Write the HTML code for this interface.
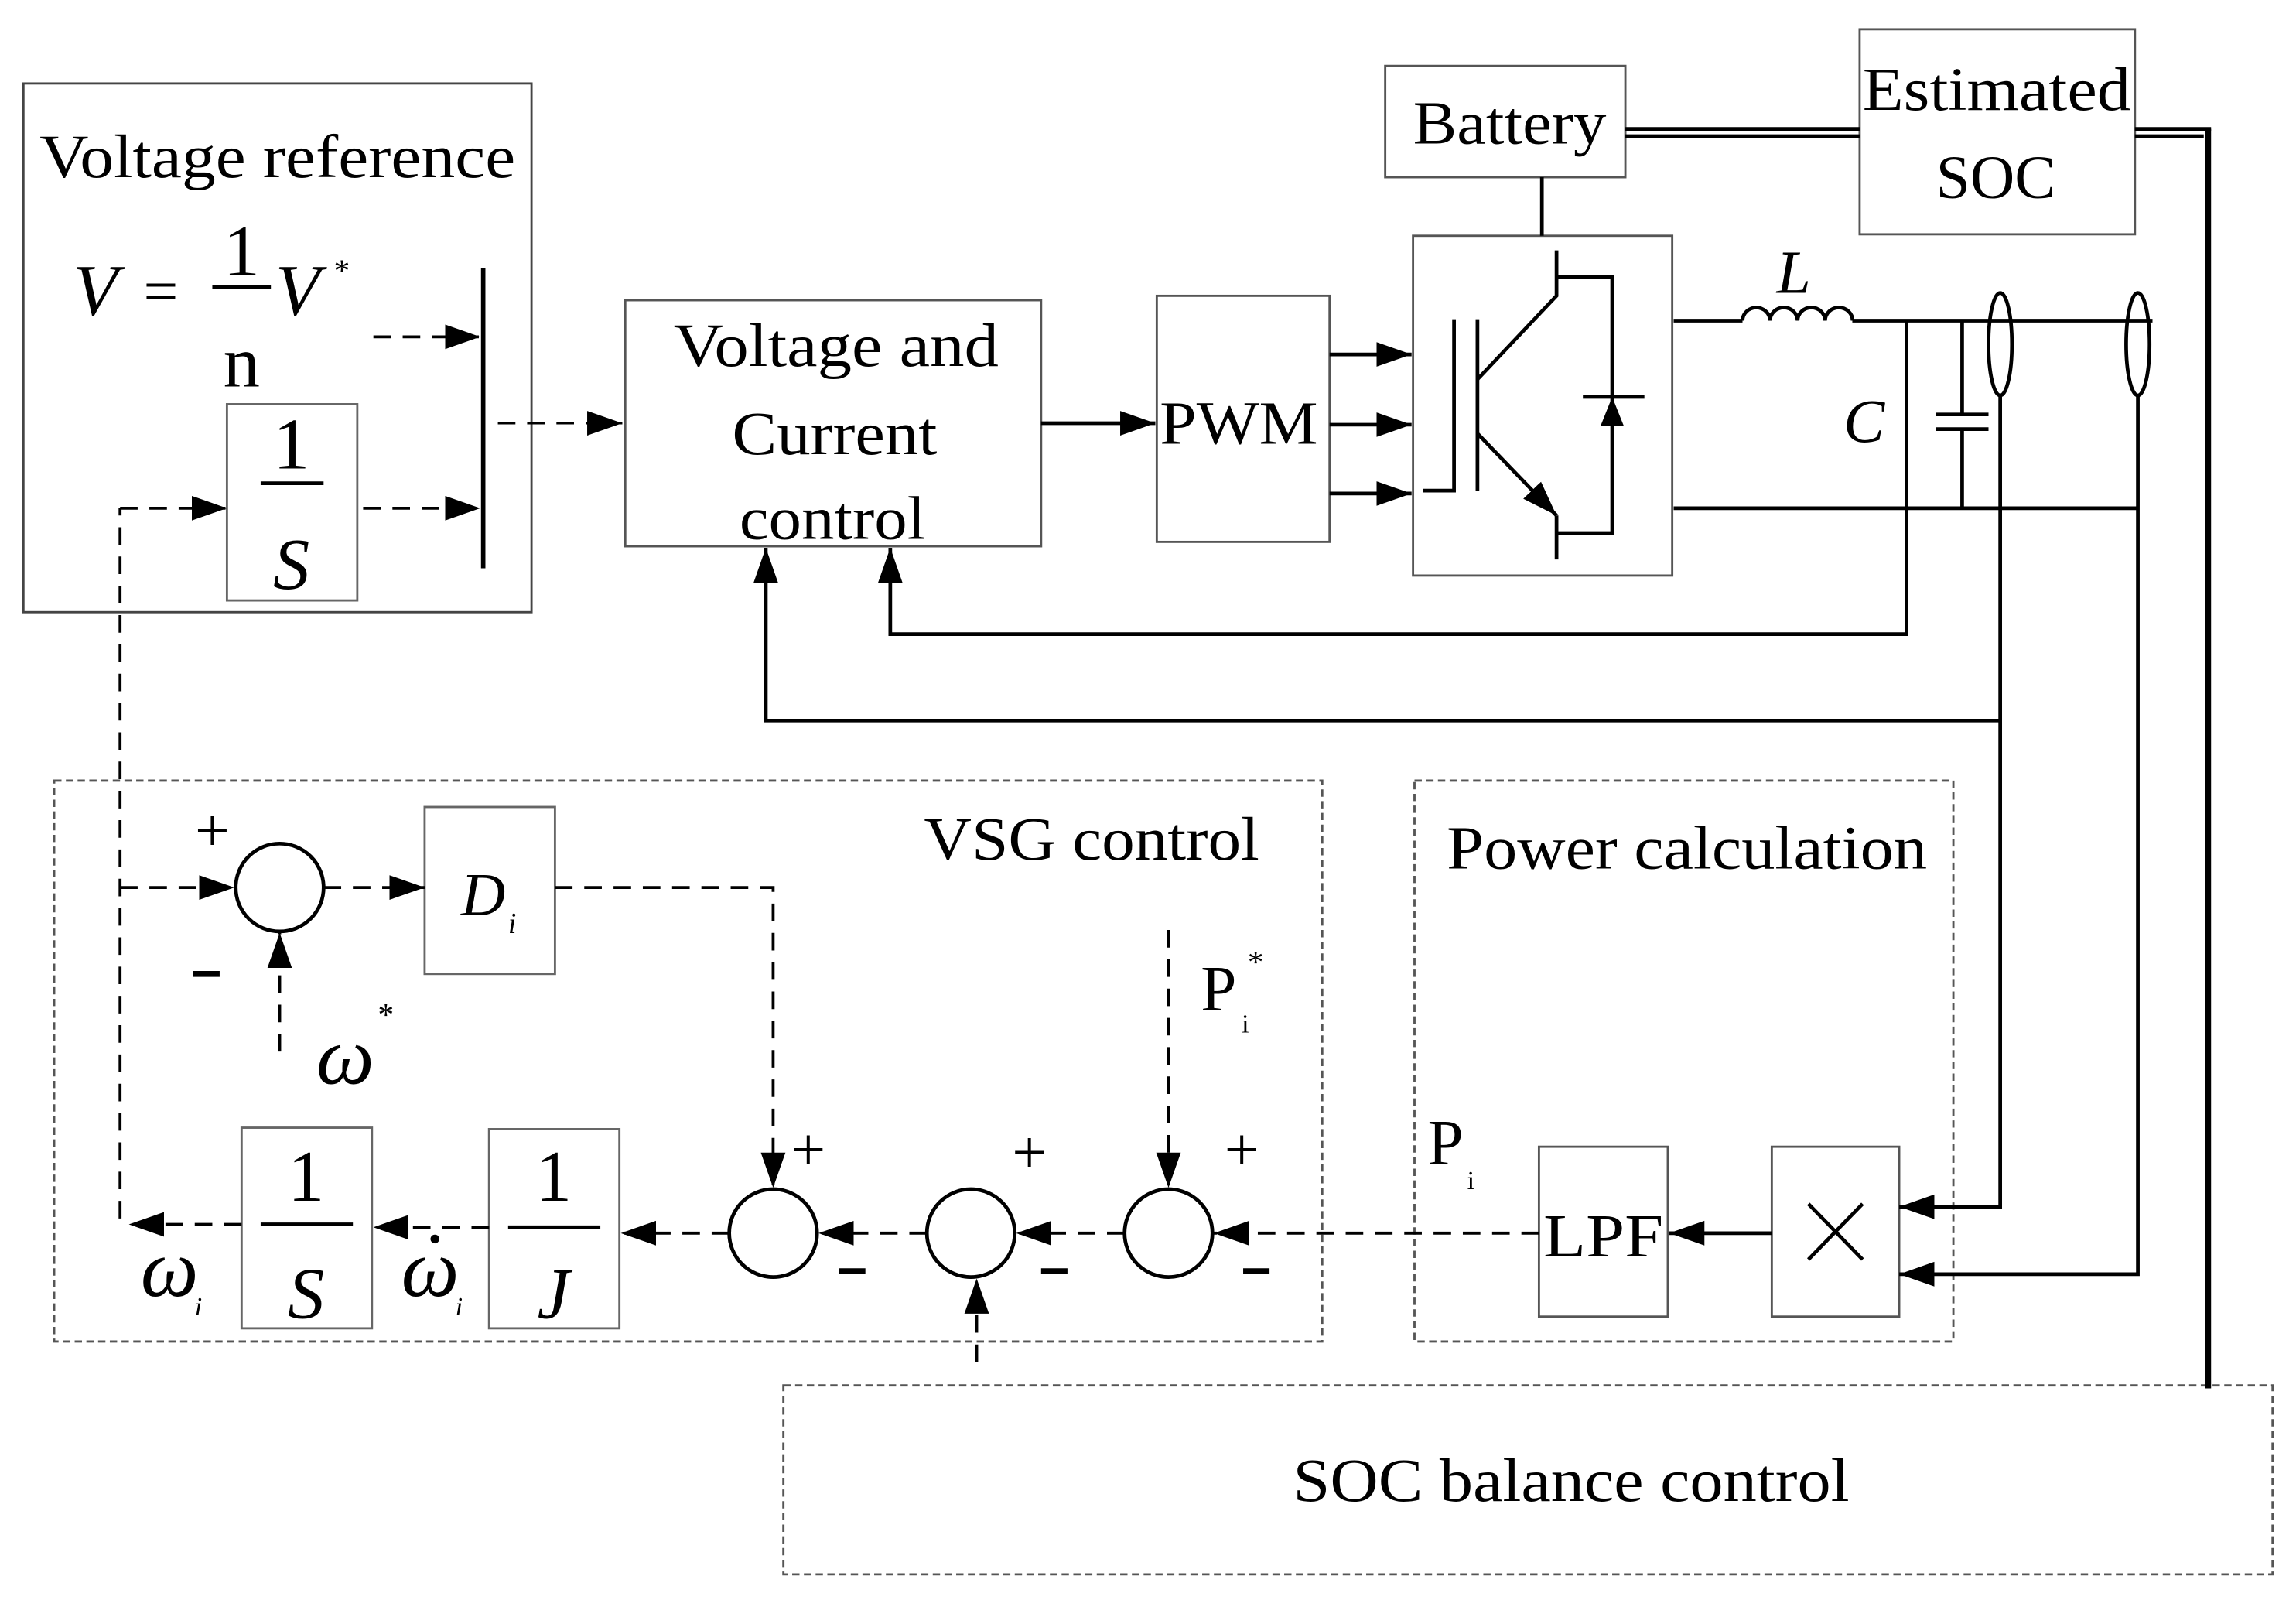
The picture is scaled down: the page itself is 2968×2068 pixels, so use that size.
<!DOCTYPE html>
<html><head><meta charset="utf-8"><style>html,body{margin:0;padding:0;background:#fff}svg{display:block}</style></head>
<body>
<svg width="2968" height="2068" viewBox="0 0 1568 1092.5" preserveAspectRatio="none" xmlns="http://www.w3.org/2000/svg" font-family="Liberation Serif, serif">
<defs>
<marker id="a" viewBox="0 0 10 10" refX="10" refY="5" markerWidth="24" markerHeight="24" markerUnits="userSpaceOnUse" orient="auto"><path d="M0,1.5 L10,5 L0,8.5z" fill="#000"/></marker>
</defs>
<g fill="none" stroke="#000">
<rect x="16" y="57" width="347" height="361" stroke="#444" stroke-width="1.5"/>
<rect x="155" y="276" width="89" height="134" stroke="#666" stroke-width="1.5"/>
<rect x="427" y="205" width="284" height="168" stroke="#555" stroke-width="1.5"/>
<rect x="790" y="202" width="118" height="168" stroke="#555" stroke-width="1.5"/>
<rect x="965" y="161" width="177" height="232" stroke="#555" stroke-width="1.5"/>
<rect x="946" y="45" width="164" height="76" stroke="#555" stroke-width="1.5"/>
<rect x="1270" y="20" width="188" height="140" stroke="#555" stroke-width="1.5"/>
<rect x="37" y="533" width="866" height="383" stroke="#555" stroke-width="1.5" stroke-dasharray="5,3"/>
<rect x="966" y="533" width="368" height="383" stroke="#555" stroke-width="1.5" stroke-dasharray="5,3"/>
<rect x="535" y="946" width="1017" height="129" stroke="#555" stroke-width="1.5" stroke-dasharray="5,3"/>
<rect x="290" y="551" width="89" height="114" stroke="#666" stroke-width="1.5"/>
<rect x="165" y="770" width="89" height="137" stroke="#666" stroke-width="1.5"/>
<rect x="334" y="771" width="89" height="136" stroke="#666" stroke-width="1.5"/>
<rect x="1051" y="783" width="88" height="116" stroke="#555" stroke-width="1.5"/>
<rect x="1210" y="783" width="87" height="116" stroke="#555" stroke-width="1.5"/>
<line x1="330" y1="183" x2="330" y2="388" stroke-width="3"/>
<line x1="145" y1="196" x2="185" y2="196" stroke-width="2.5"/>
<line x1="178" y1="330" x2="221" y2="330" stroke-width="2.5"/>
<g stroke-width="2" stroke-dasharray="12,8">
<line x1="255" y1="230" x2="328" y2="230" marker-end="url(#a)"/>
<line x1="82" y1="347" x2="155" y2="347" marker-end="url(#a)"/>
<line x1="248" y1="347" x2="328" y2="347" marker-end="url(#a)"/>
<line x1="340" y1="289" x2="425" y2="289" marker-end="url(#a)" stroke-width="1.5"/>
<polyline points="82,832 82,347"/>
<line x1="82" y1="606" x2="160" y2="606" marker-end="url(#a)"/>
<line x1="221" y1="606" x2="290" y2="606" marker-end="url(#a)"/>
<polyline points="379,606 528,606 528,811" marker-end="url(#a)"/>
<line x1="191" y1="718" x2="191" y2="637" marker-end="url(#a)"/>
<line x1="798" y1="635" x2="798" y2="811" marker-end="url(#a)"/>
<line x1="1051" y1="842" x2="829" y2="842" marker-end="url(#a)"/>
<line x1="768" y1="842" x2="694" y2="842" marker-end="url(#a)"/>
<line x1="633" y1="842" x2="559" y2="842" marker-end="url(#a)"/>
<line x1="498" y1="842" x2="424" y2="842" marker-end="url(#a)"/>
<line x1="334" y1="838" x2="255" y2="838" marker-end="url(#a)"/>
<line x1="165" y1="836" x2="88" y2="836" marker-end="url(#a)"/>
<line x1="667" y1="930" x2="667" y2="873" marker-end="url(#a)"/>
</g>
<circle cx="191" cy="606" r="30" stroke-width="2.5"/>
<circle cx="528" cy="842" r="30" stroke-width="2.5"/>
<circle cx="663" cy="842" r="30" stroke-width="2.5"/>
<circle cx="798" cy="842" r="30" stroke-width="2.5"/>
<line x1="178" y1="836" x2="241" y2="836" stroke-width="2.5"/>
<line x1="347" y1="838" x2="410" y2="838" stroke-width="2.5"/>
<g stroke-width="2.5">
<line x1="711" y1="289" x2="789" y2="289" marker-end="url(#a)"/>
<line x1="908" y1="242" x2="964" y2="242" marker-end="url(#a)"/>
<line x1="908" y1="290" x2="964" y2="290" marker-end="url(#a)"/>
<line x1="908" y1="337" x2="964" y2="337" marker-end="url(#a)"/>
<line x1="1053" y1="121" x2="1053" y2="161"/>
<line x1="1110" y1="88" x2="1270" y2="88"/><line x1="1110" y1="93" x2="1270" y2="93"/>
<polyline points="1458,88 1510,88"/><line x1="1458" y1="93" x2="1505" y2="93"/>
<line x1="1508" y1="88" x2="1508" y2="948" stroke-width="4"/>
<line x1="1143" y1="219" x2="1190" y2="219"/>
<path d="M1190,219 a9.4,9 0 0 1 18.8,0 a9.4,9 0 0 1 18.8,0 a9.4,9 0 0 1 18.8,0 a9.4,9 0 0 1 18.8,0"/>
<line x1="1265" y1="219" x2="1470" y2="219"/>
<line x1="1143" y1="347" x2="1460" y2="347"/>
<line x1="1340" y1="219" x2="1340" y2="283"/><line x1="1340" y1="293" x2="1340" y2="347"/>
<line x1="1322" y1="283" x2="1358" y2="283"/><line x1="1322" y1="293" x2="1358" y2="293"/>
<ellipse cx="1366" cy="235" rx="8" ry="35"/>
<ellipse cx="1460" cy="235" rx="8" ry="35"/>
<polyline points="1302,219 1302,433 608,433 608,374" marker-end="url(#a)"/>
<polyline points="1366,270 1366,824 1297,824" marker-end="url(#a)"/>
<polyline points="1366,492 523,492 523,374" marker-end="url(#a)"/>
<polyline points="1460,270 1460,870 1297,870" marker-end="url(#a)"/>
<line x1="1210" y1="842" x2="1140" y2="842" marker-end="url(#a)"/>
<line x1="1235" y1="822" x2="1272" y2="860"/><line x1="1272" y1="822" x2="1235" y2="860"/>
<polyline points="972,335 993,335 993,218"/>
<line x1="1009" y1="218" x2="1009" y2="335"/>
<polyline points="1009,259 1063,202 1063,171"/>
<polyline points="1063,189 1101,189 1101,364 1063,364"/>
<line x1="1009" y1="296" x2="1063" y2="352" marker-end="url(#a)"/>
<line x1="1063" y1="352" x2="1063" y2="382"/>
<line x1="1081" y1="271" x2="1123" y2="271"/>
</g>
<path d="M1101,271 L1093,291 L1109,291z" fill="#000" stroke="none"/>
<g stroke-width="4">
<line x1="132" y1="665" x2="150" y2="665"/>
<line x1="573" y1="868" x2="591" y2="868"/>
<line x1="711" y1="868" x2="729" y2="868"/>
<line x1="849" y1="868" x2="867" y2="868"/>
</g>
</g>
<g fill="#000" font-size="42">
<text x="27" y="121" textLength="325" lengthAdjust="spacingAndGlyphs">Voltage reference</text>
<text x="50" y="215" font-style="italic" font-size="50">V</text>
<text x="98" y="213" font-size="42">=</text>
<text x="165" y="188" text-anchor="middle" font-size="50">1</text>
<text x="165" y="264" text-anchor="middle" font-size="50">n</text>
<text x="188" y="215" font-style="italic" font-size="50">V</text>
<text x="228" y="192" font-size="22">*</text>
<text x="199" y="320" text-anchor="middle" font-size="50">1</text>
<text x="199" y="402" text-anchor="middle" font-size="50" font-style="italic">S</text>
<text x="460" y="250" textLength="222" lengthAdjust="spacingAndGlyphs">Voltage and</text>
<text x="500" y="310" textLength="140" lengthAdjust="spacingAndGlyphs">Current</text>
<text x="505" y="368" textLength="127" lengthAdjust="spacingAndGlyphs">control</text>
<text x="792" y="303" textLength="108" lengthAdjust="spacingAndGlyphs">PWM</text>
<text x="965" y="98" textLength="132" lengthAdjust="spacingAndGlyphs">Battery</text>
<text x="1272" y="75" textLength="183" lengthAdjust="spacingAndGlyphs">Estimated</text>
<text x="1363" y="135" text-anchor="middle">SOC</text>
<text x="1225" y="200" text-anchor="middle" font-style="italic">L</text>
<text x="1273" y="302" text-anchor="middle" font-style="italic">C</text>
<text x="631" y="587" textLength="229" lengthAdjust="spacingAndGlyphs">VSG control</text>
<text x="988" y="593" textLength="328" lengthAdjust="spacingAndGlyphs">Power calculation</text>
<text x="883" y="1025" textLength="380" lengthAdjust="spacingAndGlyphs">SOC balance control</text>
<text x="1054" y="858" textLength="82" lengthAdjust="spacingAndGlyphs">LPF</text>
<text x="330" y="625" text-anchor="middle" font-style="italic">D</text><text x="347" y="637" font-size="20" font-style="italic">i</text>
<text x="145" y="581" text-anchor="middle">+</text>
<text x="552" y="799" text-anchor="middle">+</text>
<text x="703" y="801" text-anchor="middle">+</text>
<text x="848" y="799" text-anchor="middle">+</text>
<text x="216" y="740" font-style="italic" font-size="56">ω</text><text x="258" y="700" font-size="22">*</text>
<text x="820" y="690" font-size="44">P</text><text x="852" y="664" font-size="22">*</text><text x="848" y="705" font-size="18">i</text>
<text x="975" y="795" font-size="44">P</text><text x="1002" y="812" font-size="18">i</text>
<text x="209" y="820" text-anchor="middle" font-size="50">1</text>
<text x="209" y="900" text-anchor="middle" font-size="50" font-style="italic">S</text>
<text x="378" y="820" text-anchor="middle" font-size="50">1</text>
<text x="378" y="900" text-anchor="middle" font-size="50" font-style="italic">J</text>
<text x="96" y="885" font-style="italic" font-size="56">ω</text><text x="133" y="898" font-size="18" font-style="italic">i</text>
<text x="274" y="885" font-style="italic" font-size="56">ω</text><text x="311" y="898" font-size="18" font-style="italic">i</text>
<circle cx="297" cy="846" r="3"/>
</g>
</svg>
</body></html>
